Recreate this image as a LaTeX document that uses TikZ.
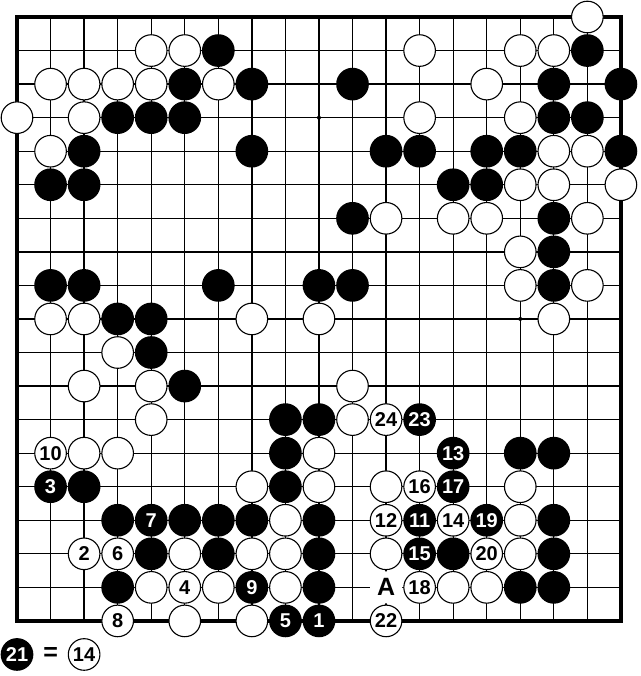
\documentclass[tikz,border=0pt]{standalone}
\usepackage{fontspec}
\newfontfamily\gofont{Liberation Sans}
\usetikzlibrary{positioning}

\begin{document}
\begin{tikzpicture}[x=33.55pt,y=-33.55pt,node distance=33.55pt,
    stone/.style={circle,inner sep=0pt,font=\gofont\bfseries\fontsize{20}{20}\selectfont},
    bstone/.style={stone,fill=black,text=white,minimum size=32.7pt},
    wstone/.style={stone,draw=black,fill=white,line width=1.1pt,minimum size=31.6pt},
    bigtext/.style={inner sep=0pt,font=\gofont\bfseries\fontsize{25}{25}\selectfont}]
  \useasboundingbox (-0.507,-0.507) rectangle (18.569,19.642);

  % board
  \foreach \i in {1,...,17} {
    \draw[line width=1.3pt] (\i,0) -- (\i,18);
    \draw[line width=1.3pt] (0,\i) -- (18,\i);
  }
  \draw[line width=3.2pt] (0,0) rectangle (18,18);
  \foreach \x/\y in {3/3,9/3,15/3,3/9,9/9,15/9,3/15,9/15,15/15}
    \fill (\x,\y) circle (2pt);

  % stones
  \foreach \x/\y in {6/1,17/1,5/2,7/2,10/2,16/2,18/2,3/3,4/3,5/3,16/3,17/3,
      2/4,7/4,11/4,12/4,14/4,15/4,18/4,1/5,2/5,13/5,14/5,10/6,16/6,16/7,
      1/8,2/8,6/8,9/8,10/8,16/8,3/9,4/9,4/10,5/11,8/12,9/12,8/13,15/13,16/13,
      2/14,8/14,3/15,5/15,6/15,7/15,9/15,16/15,4/16,6/16,9/16,13/16,16/16,
      3/17,9/17,15/17,16/17}
    \node[bstone] (b-\x-\y) at (\x,\y) {};
  \foreach \x/\y in {17/0,4/1,5/1,12/1,15/1,16/1,1/2,2/2,3/2,4/2,6/2,14/2,
      0/3,2/3,12/3,15/3,1/4,16/4,17/4,15/5,16/5,18/5,11/6,13/6,14/6,17/6,
      15/7,15/8,17/8,1/9,2/9,7/9,9/9,16/9,3/10,2/11,4/11,10/11,4/12,10/12,
      2/13,3/13,9/13,7/14,9/14,11/14,15/14,8/15,15/15,5/16,7/16,8/16,11/16,15/16,
      4/17,6/17,8/17,13/17,14/17,5/18,7/18}
    \node[wstone] (w-\x-\y) at (\x,\y) {};

  % numbered moves
  \foreach \n/\x/\y in {1/9/18,3/1/14,5/8/18,7/4/15,9/7/17,11/12/15,
      13/13/13,15/12/16,17/13/14,19/14/15,23/12/12}
    \node[bstone] (b\n) at (\x,\y) {\n};
  \foreach \n/\x/\y in {2/2/16,4/5/17,6/3/16,8/3/18,10/1/13,12/11/15,
      14/13/15,16/12/14,18/12/17,20/14/16,22/11/18,24/11/12}
    \node[wstone] (w\n) at (\x,\y) {\n};
  \node[bigtext,circle,fill=white,minimum size=32pt] (A) at (11,17) {A};

  % ko note
  \node[bstone] (b21) at (0,19) {21};
  \node[bigtext] (eq) [right of=b21] {=};
  \node[wstone] (w14note) [right of=eq] {14};
\end{tikzpicture}
\end{document}
